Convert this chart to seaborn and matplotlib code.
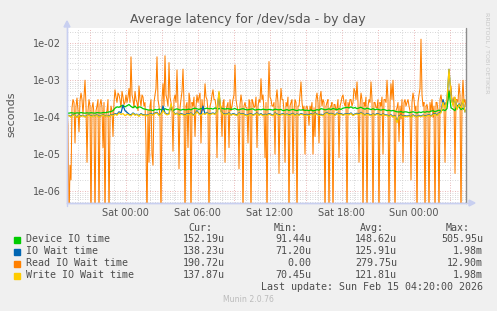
import numpy as np
import pandas as pd
import matplotlib
matplotlib.use("Agg")
import matplotlib.pyplot as plt
import seaborn as sns
from matplotlib.ticker import LogLocator, FixedLocator, FuncFormatter, NullFormatter
from matplotlib.patches import Rectangle, Polygon
from matplotlib.lines import Line2D

# ---------------- data (microseconds) ----------------
start_hour = -4.9          # hours relative to Sat 00:00
end_hour = 28.35
step_10min = 1.0 / 6.0
step_5min = 1.0 / 12.0

# 10-minute samples
device_io = [
    130,128,132,130,127,131,129,133,130,128,131,129,132,130,128,133,131,129,134,132,
    135,138,142,150,175,190,185,200,210,190,205,220,195,180,200,175,190,185,170,165,
    160,155,158,150,162,157,165,160,155,170,160,158,165,150,162,168,160,155,163,158,
    160,165,158,170,175,168,162,172,165,170,175,168,172,165,178,170,168,175,170,165,
    170,168,162,165,172,160,158,165,170,162,158,160,165,168,155,160,162,158,165,160,
    158,162,160,155,165,160,158,162,150,155,160,152,158,162,155,150,158,155,160,152,
    155,150,158,148,152,160,155,170,165,158,162,168,160,172,165,158,170,162,175,180,
    185,178,190,175,182,170,178,185,172,165,175,168,160,170,158,165,160,155,162,158,
    150,155,148,152,145,140,138,142,135,140,138,132,136,140,135,130,138,133,140,136,
    142,138,145,150,140,148,155,145,160,150,170,505,180,165,150,210,190,160,175,152,
]
io_wait = [
    110,112,105,118,110,102,115,108,112,104,110,117,106,112,110,115,104,110,116,108,
    112,106,118,112,125,120,140,130,210,150,135,120,115,130,118,120,110,125,115,118,
    112,118,125,118,130,135,115,122,200,130,120,125,210,145,122,128,115,125,120,112,
    125,120,130,115,122,150,125,118,200,122,135,120,125,130,122,140,450,145,125,120,
    122,130,116,125,120,114,130,122,125,116,112,120,125,114,122,130,116,125,112,120,
    116,125,120,112,130,122,115,120,125,116,122,114,120,127,112,122,116,125,120,114,
    120,112,125,116,130,122,114,120,112,125,135,120,127,122,114,130,120,125,116,122,
    125,120,130,115,122,127,120,135,122,116,125,120,112,122,116,125,120,114,122,116,
    114,108,116,104,112,75,108,114,104,110,106,112,100,116,108,104,112,106,114,108,
    112,116,108,120,125,115,130,140,300,200,280,1980,380,220,330,170,230,190,290,138,
]
write_io_wait = [
    105,110,100,115,108,98,112,104,110,100,108,115,102,110,106,112,100,108,114,105,
    110,102,115,108,120,112,130,118,125,110,120,115,108,125,112,118,105,120,110,115,
    108,115,120,112,125,130,110,118,150,125,115,120,230,140,118,125,110,120,115,108,
    120,115,125,110,118,140,120,112,125,118,130,115,120,125,118,135,500,140,120,115,
    118,125,112,120,115,110,125,118,120,112,108,115,120,110,118,125,112,120,108,115,
    112,120,115,108,125,118,110,115,120,112,118,110,115,122,108,118,112,120,115,110,
    115,108,120,112,125,118,110,115,108,120,130,115,122,118,110,125,115,120,112,118,
    120,115,125,110,118,122,115,130,118,112,120,115,108,118,112,120,115,110,118,112,
    110,105,112,100,108,71,104,110,100,106,102,108,98,112,104,100,108,102,110,104,
    108,112,105,115,120,110,125,130,250,180,300,1980,400,200,350,160,220,180,300,138,
]
# 5-minute samples
read_io_wait = [
    150,60,0,5,2,180,300,250,20,200,330,150,40,280,450,300,120,350,1000,200,
    6,150,300,200,0,180,250,120,0,150,200,300,0,220,300,180,15,250,0,120,
    150,300,0,90,200,150,30,250,550,350,250,450,400,300,180,500,350,220,250,400,
    250,350,600,250,4300,400,300,180,500,300,250,150,700,300,200,400,350,200,250,20,
    0,150,6,200,300,10,5,250,400,600,4300,300,200,100,0,300,800,200,4600,400,
    300,200,3000,350,250,150,12,300,400,250,1900,200,4,180,300,500,2000,250,0,200,
    250,15,450,300,0,250,200,350,30,200,400,250,350,450,20,300,150,200,800,350,
    300,150,0,200,250,400,550,300,300,200,8,250,450,180,200,30,250,300,6,150,
    200,250,15,300,150,200,300,400,2600,300,200,150,4,220,400,250,0,200,250,180,
    180,20,300,250,0,300,250,180,200,350,15,200,300,250,1100,300,400,150,8,250,
    0,200,3200,350,300,200,200,250,10,300,550,250,3,200,600,300,300,150,6,250,
    200,350,0,200,250,300,3,150,300,250,0,200,200,400,900,250,150,200,10,180,
    200,150,60,200,150,250,10,180,30,300,450,250,20,350,500,200,300,250,0,200,
    250,300,0,180,200,250,0,220,220,150,180,300,8,200,250,350,400,250,200,300,
    0,250,180,300,300,200,250,600,500,300,900,250,6,200,450,300,0,250,200,350,
    0,200,300,250,900,300,0,250,250,180,180,300,0,250,200,350,10,300,300,250,
    1000,300,0,250,800,300,1000,200,0,150,180,250,22,200,90,300,6,250,300,200,
    250,300,200,150,2,250,450,300,150,200,0,250,400,600,12900,400,200,250,0,200,
    220,150,0,250,150,300,100,200,0,250,250,150,0,300,400,250,280,200,6,250,
    250,300,550,400,700,250,250,350,3,300,300,250,800,400,0,300,1000,250,300,190,
]

series_names = ["Device IO time", "IO Wait time", "Read IO Wait time", "Write IO Wait time"]
series_colors = ["#00CC00", "#0066B3", "#FF8000", "#FFCC00"]
cur_vals = ["152.19u", "138.23u", "190.72u", "137.87u"]
min_vals = ["91.44u", "71.20u", "0.00", "70.45u"]
avg_vals = ["148.62u", "125.91u", "279.75u", "121.81u"]
max_vals = ["505.95u", "1.98m", "12.90m", "1.98m"]

xtick_hours = [0, 6, 12, 18, 24]
xtick_labels = ["Sat 00:00", "Sat 06:00", "Sat 12:00", "Sat 18:00", "Sun 00:00"]

title = "Average latency for /dev/sda - by day"
ylabel = "seconds"
last_update = "Last update: Sun Feb 15 04:20:00 2026"
footer = "Munin 2.0.76"
side_text = "RRDTOOL / TOBI OETIKER"

# ---------------- figure ----------------
W, H = 497, 311
sns.set_style("white")
plt.rcParams['font.family'] = ['DejaVu Sans']

fig = plt.figure(figsize=(W / 100, H / 100), dpi=100, facecolor='#F0F0F0')
L, R, T, B = 67, 466, 28, 203
ax = fig.add_axes([L / W, 1 - B / H, (R - L) / W, (B - T) / H])
ax.set_facecolor('white')

ymin, ymax = 10 ** -6.324, 10 ** -1.586
ax.set_yscale('log')

all_series = [device_io, io_wait, read_io_wait, write_io_wait]
steps = [step_10min, step_10min, step_5min, step_10min]
frames = []
for name, vals, st in zip(series_names, all_series, steps):
    v = np.asarray(vals, dtype=float) * 1e-6
    v = np.where(v > 0, v, ymin * 0.3)   # zero values drop to the bottom of the log axis
    t = start_hour + np.arange(len(v)) * st
    frames.append(pd.DataFrame({"t": t, "v": v, "series": name}))
df = pd.concat(frames, ignore_index=True)

widths = [0.9, 0.9, 0.75, 0.9]
zords = [3, 3.1, 2, 3.2]
for name, col, lw, zo in zip(series_names, series_colors, widths, zords):
    sub = df[df.series == name]
    sns.lineplot(data=sub, x="t", y="v", color=col, lw=lw, ax=ax,
                 estimator=None, sort=False, legend=False, zorder=zo)

ax.set_xlim(start_hour, end_hour)
ax.set_ylim(ymin, ymax)
ax.set_xlabel("")
ax.set_ylabel("")

# ticks and grid
major_x = np.arange(-3, 28.1, 3)
ax.xaxis.set_major_locator(FixedLocator(major_x))
ax.xaxis.set_minor_locator(FixedLocator(np.arange(-4, 28.1, 1)))
lab_map = dict(zip(xtick_hours, xtick_labels))
ax.xaxis.set_major_formatter(FuncFormatter(lambda v, p: lab_map.get(int(round(v)), "") if abs(v - round(v)) < 1e-6 else ""))
ax.yaxis.set_major_locator(LogLocator(base=10, numticks=20))
ax.yaxis.set_minor_locator(LogLocator(base=10, subs=np.arange(2, 10), numticks=50))
ax.yaxis.set_major_formatter(FuncFormatter(lambda v, p: f"{v:.0e}"))
ax.yaxis.set_minor_formatter(NullFormatter())

ax.grid(which='minor', color='#CACACA', linestyle=(0, (1, 2)), lw=0.6, zorder=0)
ax.grid(which='major', color='#E3A0A0', linestyle=(0, (1, 2)), lw=0.6, zorder=1)
ax.set_axisbelow(True)

ax.tick_params(axis='x', which='major', length=2.2, width=0.8, color='#E3A0A0', pad=1.5,
               labelsize=7, labelcolor='#555555')
ax.tick_params(axis='x', which='minor', length=1.5, width=0.6, color='#D2D2D2')
ax.tick_params(axis='y', which='major', length=2, width=0.8, color='#E3A0A0', pad=2.3,
               labelsize=7, labelcolor='#555555')
ax.tick_params(axis='y', which='minor', length=1.5, width=0.6, color='#D2D2D2')

for s in ['top', 'right']:
    ax.spines[s].set_visible(False)
for s in ['left', 'bottom']:
    ax.spines[s].set_color('#C8CFF0')
    ax.spines[s].set_linewidth(1.0)

# dark right rule
ax.axvline(end_hour, color='#8C8C8C', lw=1.0, clip_on=False, zorder=4)

def fx(px):
    return px / W

def fy(py):
    return 1 - py / H

# axis arrows
fig.lines.append(Line2D([fx(L), fx(471)], [fy(B), fy(B)], color='#C8CFF0', lw=1.0, transform=fig.transFigure))
fig.lines.append(Line2D([fx(L), fx(L)], [fy(B + 3), fy(24)], color='#C8CFF0', lw=1.0, transform=fig.transFigure))
fig.patches.append(Polygon([[fx(L - 3), fy(27)], [fx(L + 3), fy(27)], [fx(L), fy(21)]],
                           closed=True, color='#C8CFF0', transform=fig.transFigure))
fig.patches.append(Polygon([[fx(469), fy(B - 3)], [fx(469), fy(B + 3)], [fx(475), fy(B)]],
                           closed=True, color='#C8CFF0', transform=fig.transFigure))

# texts
fig.text(fx(248), fy(19), title, ha='center', va='center', fontsize=9, color='#555555')
fig.text(fx(11), fy(114), ylabel, ha='center', va='center', rotation=90, fontsize=8, color='#555555')
fig.text(fx(487), fy(53), side_text, ha='center', va='center', rotation=270, fontsize=4.6, color='#C8C8C8')
fig.text(fx(248), fy(300), footer, ha='center', va='center', fontsize=5.6, color='#BBBBBB')

mono = 'DejaVu Sans Mono'
lfs = 7.2
tc = '#4D4D4D'
hy = 228
for txt, xr in zip(["Cur:", "Min:", "Avg:", "Max:"], [212, 298, 384, 470]):
    fig.text(fx(xr), fy(hy), txt, ha='right', va='center', family=mono, fontsize=lfs, color=tc)
rows_y = [239.5, 251.5, 263.5, 275.5]
for i, (name, col) in enumerate(zip(series_names, series_colors)):
    yy = rows_y[i]
    fig.patches.append(Rectangle((fx(14), fy(yy + 3.3)), 6 / W, 6 / H, color=col, transform=fig.transFigure))
    fig.text(fx(26), fy(yy), name, ha='left', va='center', family=mono, fontsize=lfs, color=tc)
    for vals, xr in zip([cur_vals, min_vals, avg_vals, max_vals], [225, 311, 397, 483]):
        fig.text(fx(xr), fy(yy), vals[i], ha='right', va='center', family=mono, fontsize=lfs, color=tc)
fig.text(fx(483), fy(287.5), last_update, ha='right', va='center', family=mono, fontsize=lfs, color=tc)

fig.savefig("out.png", dpi=100, facecolor=fig.get_facecolor())
